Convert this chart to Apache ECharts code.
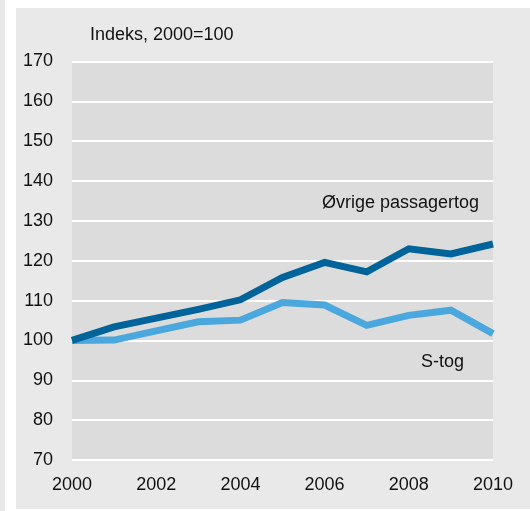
<!DOCTYPE html>
<html><head><meta charset="utf-8">
<script src="https://cdn.jsdelivr.net/npm/echarts@6/dist/echarts.min.js"></script>
<style>html,body{margin:0;padding:0;background:#fff}#c{width:530px;height:511px}</style>
</head><body><div id="c"></div>
<script>
const years = [2000,2001,2002,2003,2004,2005,2006,2007,2008,2009,2010];
const ovrige = [100,103.4,105.6,107.8,110.2,115.8,119.6,117.2,123.0,121.7,124.2];
const stog = [100,100.1,102.4,104.7,105.1,109.5,108.9,103.8,106.3,107.6,101.7];
const yTitle = 'Indeks, 2000=100';
const names = ['Øvrige passagertog','S-tog'];
const FONT = '"Liberation Sans",sans-serif';
const FS = 18;
const chart = echarts.init(document.getElementById('c'));
chart.setOption({
  backgroundColor:'#ffffff',
  animation:false,
  textStyle:{fontFamily:FONT},
  graphic:[
    {type:'rect',z:-10,shape:{x:0,y:0,width:5,height:511},style:{fill:'#e9e9e9'}},
    {type:'rect',z:-10,shape:{x:16,y:8,width:514,height:501},style:{fill:'#e9e9e9'}},
    {type:'text',left:90,top:26,style:{text:yTitle,fontFamily:FONT,fontSize:FS,fill:'#111'}},
    {type:'text',right:51,top:194,style:{text:names[0],fontFamily:FONT,fontSize:FS,fill:'#111'}},
    {type:'text',left:421,top:353,style:{text:names[1],fontFamily:FONT,fontSize:FS,fill:'#111'}}
  ],
  grid:{left:72,right:37,top:61.5,bottom:51,show:true,backgroundColor:'#dcdcdc',borderWidth:0},
  xAxis:{type:'value',min:2000,max:2010,interval:2,
    axisLine:{show:false},axisTick:{show:false},splitLine:{show:false},
    axisLabel:{fontFamily:FONT,fontSize:FS,color:'#111',margin:16,formatter:v=>String(v)}},
  yAxis:{type:'value',min:70,max:170,interval:10,
    axisLine:{show:false},axisTick:{show:false},
    splitLine:{lineStyle:{color:'#ffffff',width:2}},
    axisLabel:{fontFamily:FONT,fontSize:FS,color:'#111',margin:19}},
  series:[
    {name:names[1],type:'line',data:years.map((y,i)=>[y,stog[i]]),symbol:'none',
     lineStyle:{color:'#4ba8de',width:7,join:'miter'},z:2},
    {name:names[0],type:'line',data:years.map((y,i)=>[y,ovrige[i]]),symbol:'none',
     lineStyle:{color:'#006399',width:7,join:'miter'},z:3}
  ]
});
</script></body></html>
